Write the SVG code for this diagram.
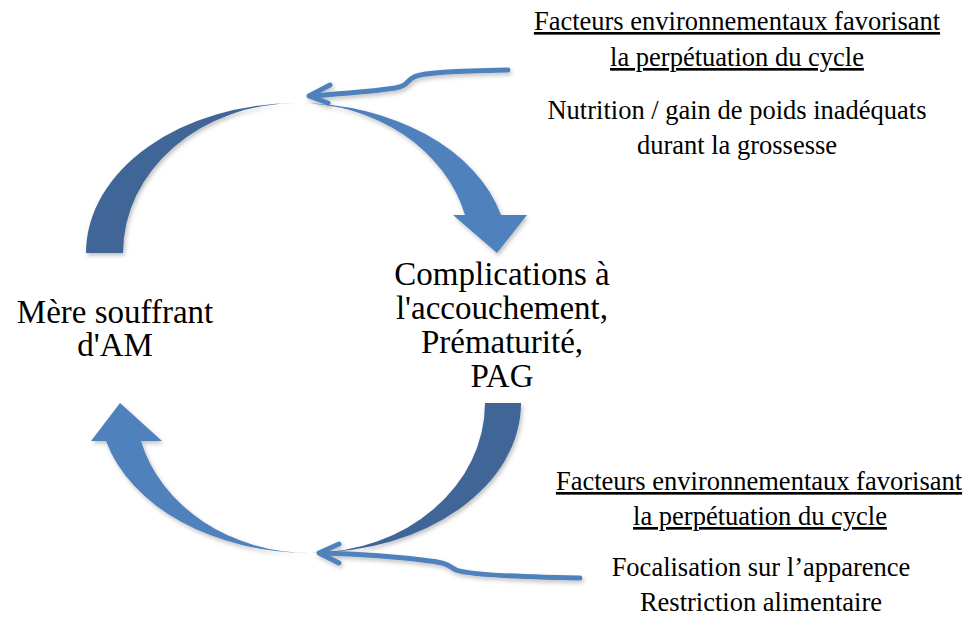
<svg xmlns="http://www.w3.org/2000/svg" width="968" height="617" viewBox="0 0 968 617">
<defs>
<style>
text{font-family:'Liberation Serif','Tinos','DejaVu Serif',serif;fill:#000;text-anchor:middle}
.big{font-size:33px}
.ann{font-size:26.5px}
.u{text-decoration:underline}
.light{fill:#4f81bd}
.dark{fill:#3f6597}
.con{fill:none;stroke:#4f81bd;stroke-width:5;stroke-linecap:round;stroke-linejoin:round}
</style>
<filter id="sh" x="-10%" y="-10%" width="130%" height="130%">
<feDropShadow dx="1.5" dy="2.5" stdDeviation="2" flood-color="#000" flood-opacity="0.25"/>
</filter>
</defs>
<rect width="968" height="617" fill="#fff"/>
<g id="cycle-top" filter="url(#sh)">
<path class="dark" d="M86,253 A211,150 0 0 1 297,103 A174,150 0 0 0 123,253 Z"/>
<path class="light" d="M297,103 A211,150 0 0 1 501,215 L527,215 L497,253 L453,215 L465,215 A174,150 0 0 0 297,103 Z"/>
</g>
<g id="cycle-bottom" filter="url(#sh)">
<path class="dark" d="M521,403 A211,150 0 0 1 310,553 A175,150 0 0 0 485,403 Z"/>
<path class="light" d="M310,553 A211,150 0 0 1 106,441 L91,441 L120,403 L162,441 L141,441 A175,150 0 0 0 310,553 Z"/>
</g>
<g id="connectors" filter="url(#sh)">
<path class="con" d="M508,70 C460,71 425,72 414,77 C406,81 408,86 395,88 C370,92 335,94 310,96"/>
<polyline class="con" points="330,85 309,96 328,103"/>
<path class="con" d="M580,578 C520,577 470,575 456,570 C448,566 448,563 430,561 C400,557 360,554 320,553"/>
<polyline class="con" points="339,544 319,553 339,563"/>
</g>
<g id="node-mere" font-family="Liberation Serif, serif">
<text class="big" x="115" y="323">Mère souffrant</text>
<text class="big" x="115" y="356">d'AM</text>
</g>
<g id="node-complications">
<text class="big" x="502" y="285">Complications à</text>
<text class="big" x="502" y="319">l'accouchement,</text>
<text class="big" x="502" y="353">Prématurité,</text>
<text class="big" x="502" y="387">PAG</text>
</g>
<g id="note-top">
<text class="ann u" x="737" y="30">Facteurs environnementaux favorisant</text>
<text class="ann u" x="737" y="66">la perpétuation du cycle</text>
<text class="ann" x="737" y="119">Nutrition / gain de poids inadéquats</text>
<text class="ann" x="737" y="154">durant la grossesse</text>
</g>
<g id="note-bottom">
<text class="ann u" x="759" y="490">Facteurs environnementaux favorisant</text>
<text class="ann u" x="760" y="525">la perpétuation du cycle</text>
<text class="ann" x="761" y="576">Focalisation sur l’apparence</text>
<text class="ann" x="761" y="611">Restriction alimentaire</text>
</g>
</svg>
